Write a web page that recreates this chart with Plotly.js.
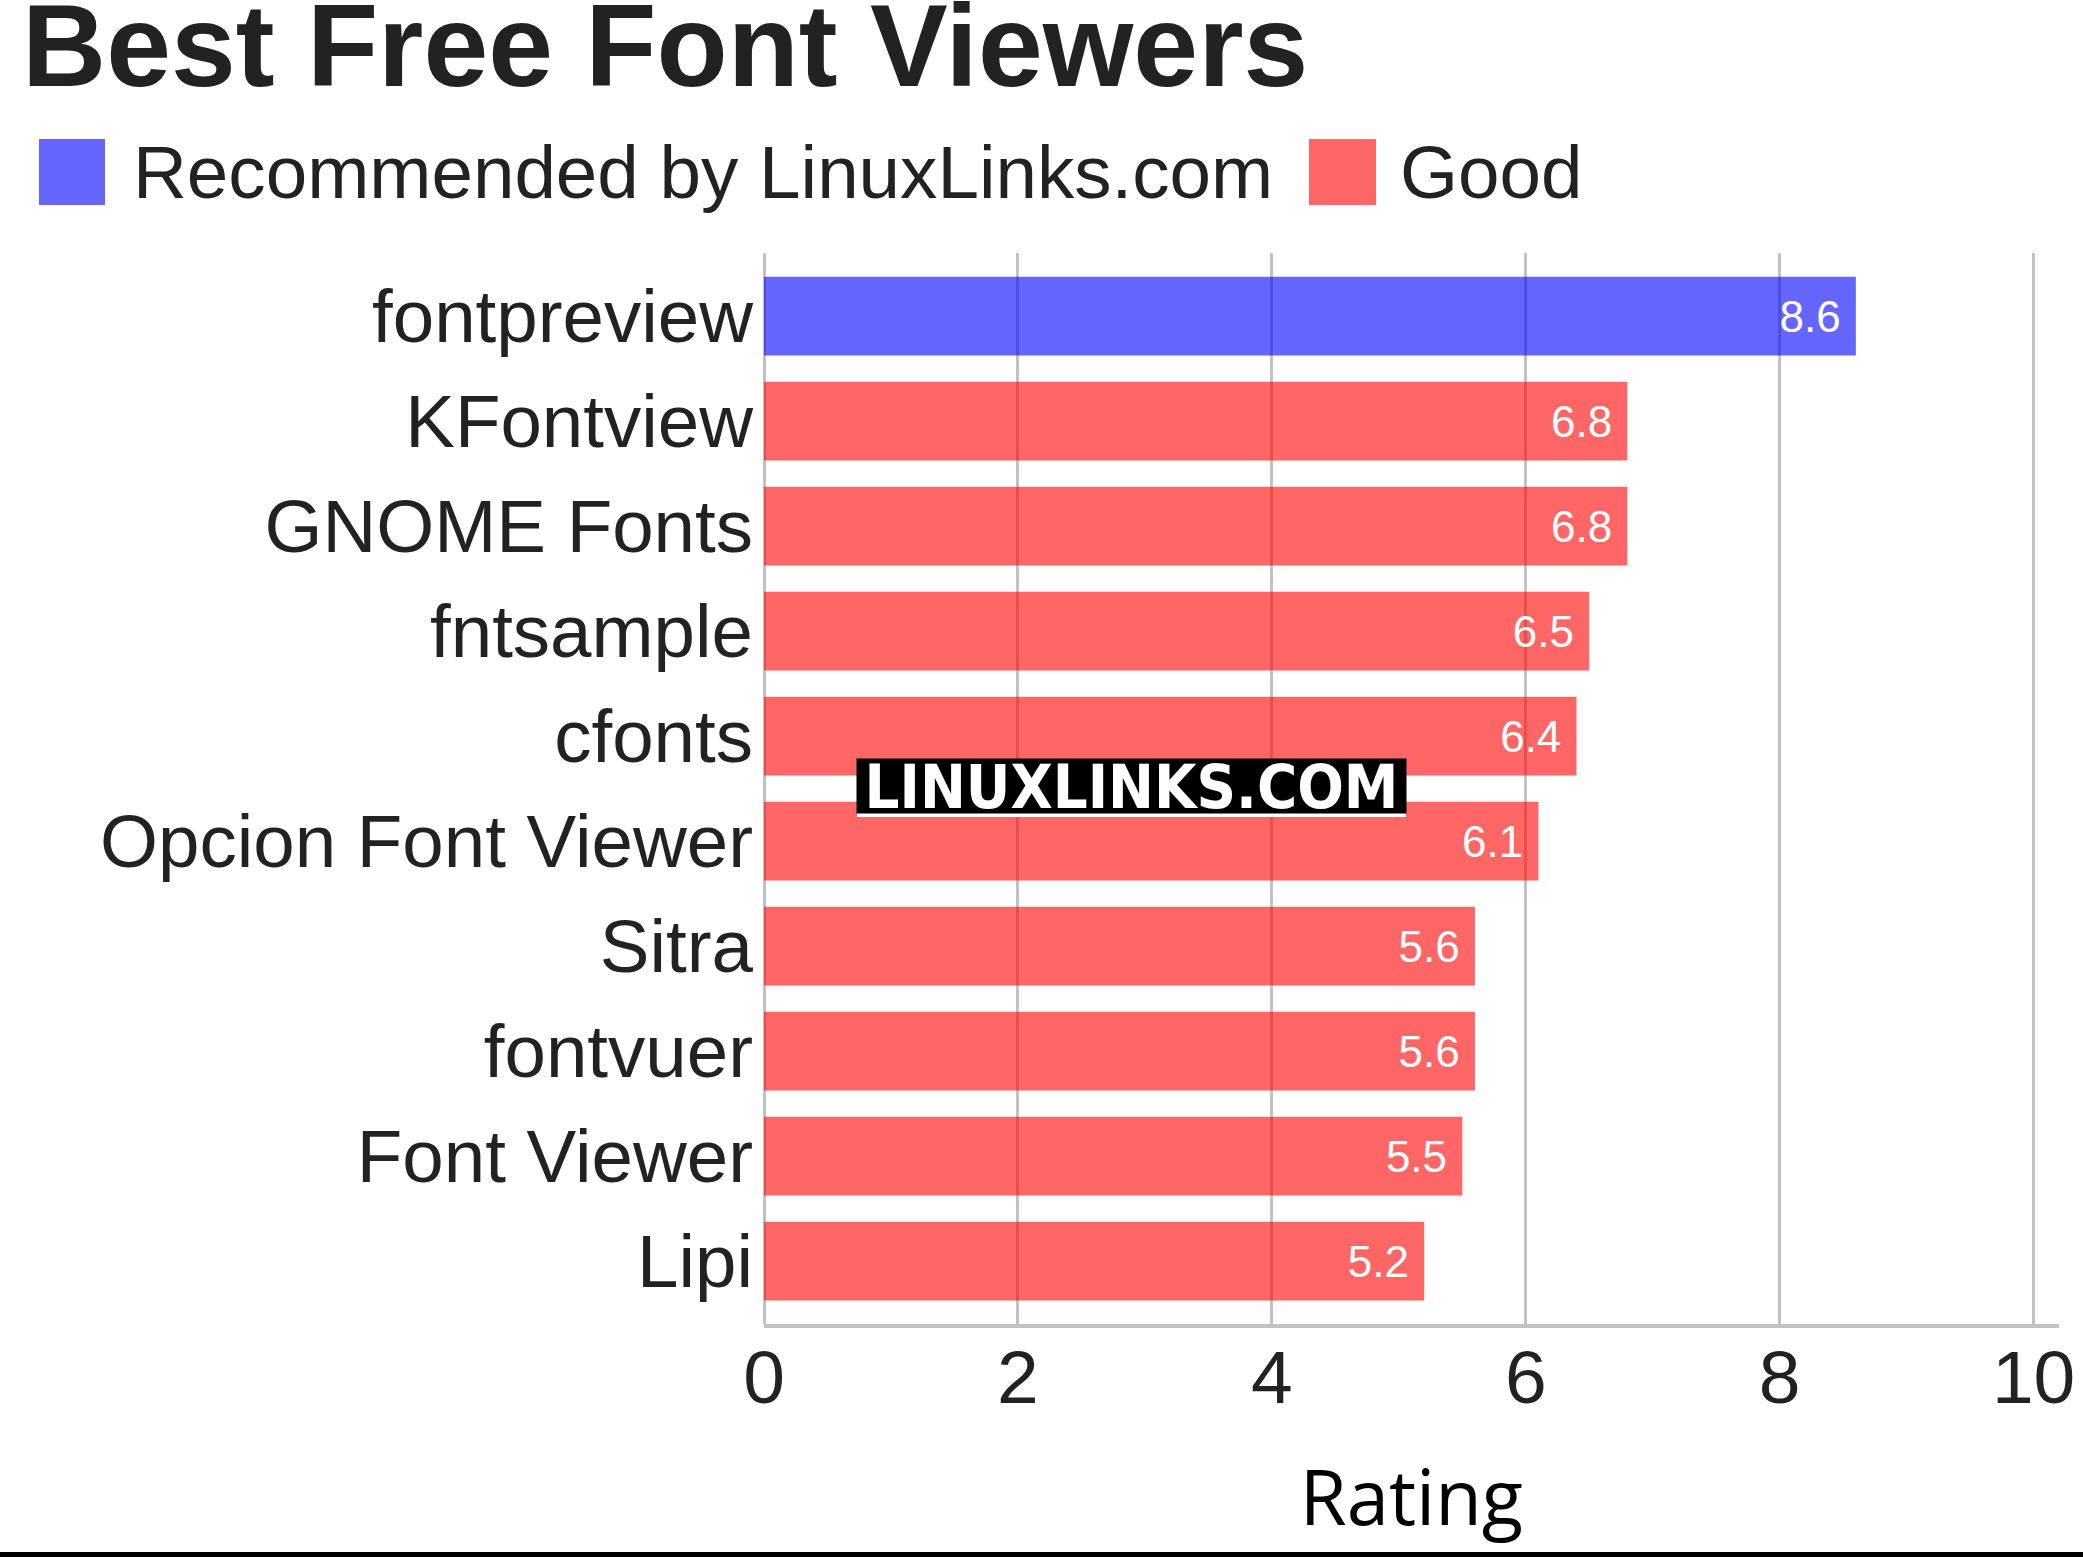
<!DOCTYPE html>
<html>
<head>
<meta charset="utf-8">
<script src="https://cdn.plot.ly/plotly-3.0.1.min.js"></script>
<style>
html, body { margin: 0; padding: 0; background: #fff; overflow: hidden; }
#chart { width: 2083px; height: 1557px; }
</style>
</head>
<body>
<div id="chart"></div>
<script>
// ---- data ----
var categories = ["fontpreview", "KFontview", "GNOME Fonts", "fntsample", "cfonts",
                  "Opcion Font Viewer", "Sitra", "fontvuer", "Font Viewer", "Lipi"];
var recommendedNames = ["fontpreview"];
var recommendedValues = [8.6];
var goodNames = ["KFontview", "GNOME Fonts", "fntsample", "cfonts",
                 "Opcion Font Viewer", "Sitra", "fontvuer", "Font Viewer", "Lipi"];
var goodValues = [6.8, 6.8, 6.5, 6.4, 6.1, 5.6, 5.6, 5.5, 5.2];
var xTickValues = [0, 2, 4, 6, 8, 10];
var seriesNames = ["Recommended by LinuxLinks.com", "Good"];
var chartTitle = "Best Free Font Viewers";
var xAxisTitle = "Rating";
var watermark = "LINUXLINKS.COM";

// ---- layout geometry (pixels) ----
var W = 2083, H = 1557;
var M = { l: 764, r: 24, t: 253, b: 233 };
var PW = W - M.l - M.r, PH = H - M.t - M.b;
function px(x) { return (x - M.l) / PW; }
function py(y) { return 1 - (y - M.t) / PH; }

var blue = "rgba(0,0,255,0.6)";
var red = "rgba(255,0,0,0.6)";
var textColor = "#222222";
var gridColor = "#c2c2c2";
var labelFont = "Liberation Sans, Arial, sans-serif";

var traces = [
  {
    type: "bar", orientation: "h", name: seriesNames[0],
    y: recommendedNames, x: recommendedValues,
    marker: { color: blue },
    text: recommendedValues.map(function (v) { return v.toFixed(1) + "\u00a0"; }),
    textposition: "inside", insidetextanchor: "end",
    textfont: { family: labelFont, size: 44, color: "#ffffff" },
    hoverinfo: "x+y"
  },
  {
    type: "bar", orientation: "h", name: seriesNames[1],
    y: goodNames, x: goodValues,
    marker: { color: red },
    text: goodValues.map(function (v) { return v.toFixed(1) + "\u00a0"; }),
    textposition: "inside", insidetextanchor: "end",
    textfont: { family: labelFont, size: 44, color: "#ffffff" },
    hoverinfo: "x+y"
  }
];

var shapes = [
  // legend swatches
  { type: "rect", xref: "paper", yref: "paper", x0: px(39), x1: px(105), y0: py(139), y1: py(205),
    fillcolor: blue, line: { width: 0 } },
  { type: "rect", xref: "paper", yref: "paper", x0: px(1309), x1: px(1376), y0: py(139), y1: py(205),
    fillcolor: red, line: { width: 0 } },
  // white strip below watermark
  { type: "rect", xref: "paper", yref: "paper", x0: px(857), x1: px(1406), y0: py(817), y1: py(813),
    fillcolor: "#ffffff", line: { width: 0 }, layer: "above" },
  // bottom black rule
  { type: "rect", xref: "paper", yref: "paper", x0: px(0), x1: px(W), y0: py(1557), y1: py(1552),
    fillcolor: "#000000", line: { width: 0 } }
];

var annotations = [
  { xref: "paper", yref: "paper", x: px(132), y: py(172), xanchor: "left", yanchor: "middle",
    text: seriesNames[0], showarrow: false, borderpad: 0,
    font: { family: labelFont, size: 74.6, color: textColor } },
  { xref: "paper", yref: "paper", x: px(1399), y: py(172), xanchor: "left", yanchor: "middle",
    text: seriesNames[1], showarrow: false, borderpad: 0,
    font: { family: labelFont, size: 74.6, color: textColor } },
  { xref: "paper", yref: "paper", x: px(1131.5), y: py(786), xanchor: "center", yanchor: "middle",
    text: "<b>" + watermark + "</b>", showarrow: false, borderpad: 0,
    width: 549, height: 54, bgcolor: "#000000",
    font: { family: "DejaVu Sans Condensed, DejaVu Sans, sans-serif", size: 61, color: "#ffffff" } }
];

var layout = {
  width: W, height: H,
  margin: M,
  paper_bgcolor: "#ffffff", plot_bgcolor: "#ffffff",
  showlegend: false,
  barmode: "overlay",
  bargap: 0.25,
  title: {
    text: "<b>" + chartTitle + "</b>",
    font: { family: labelFont, size: 116.5, color: textColor },
    xref: "container", yref: "container",
    x: 22 / W, xanchor: "left",
    y: 1 - 4 / H, yanchor: "top"
  },
  xaxis: {
    range: [0, 10.2],
    tickvals: xTickValues,
    ticktext: xTickValues.map(String),
    ticks: "",
    ticklabelstandoff: -15,
    showgrid: true, gridcolor: gridColor, gridwidth: 3,
    zeroline: true, zerolinecolor: gridColor, zerolinewidth: 3,
    showline: true, linecolor: gridColor, linewidth: 4,
    tickfont: { family: labelFont, size: 75, color: textColor },
    title: { text: xAxisTitle, font: { family: "Open Sans, Noto Sans, sans-serif", size: 76, color: "#000000" }, standoff: 55 }
  },
  yaxis: {
    type: "category",
    categoryorder: "array", categoryarray: categories,
    range: [categories.length - 1 + 0.6, -0.6],
    ticks: "",
    showgrid: false, zeroline: false, showline: false,
    ticklabelstandoff: 10,
    tickfont: { family: labelFont, size: 74.5, color: textColor }
  },
  shapes: shapes,
  annotations: annotations
};

Plotly.newPlot("chart", traces, layout, { displayModeBar: false, staticPlot: true });
</script>
</body>
</html>
